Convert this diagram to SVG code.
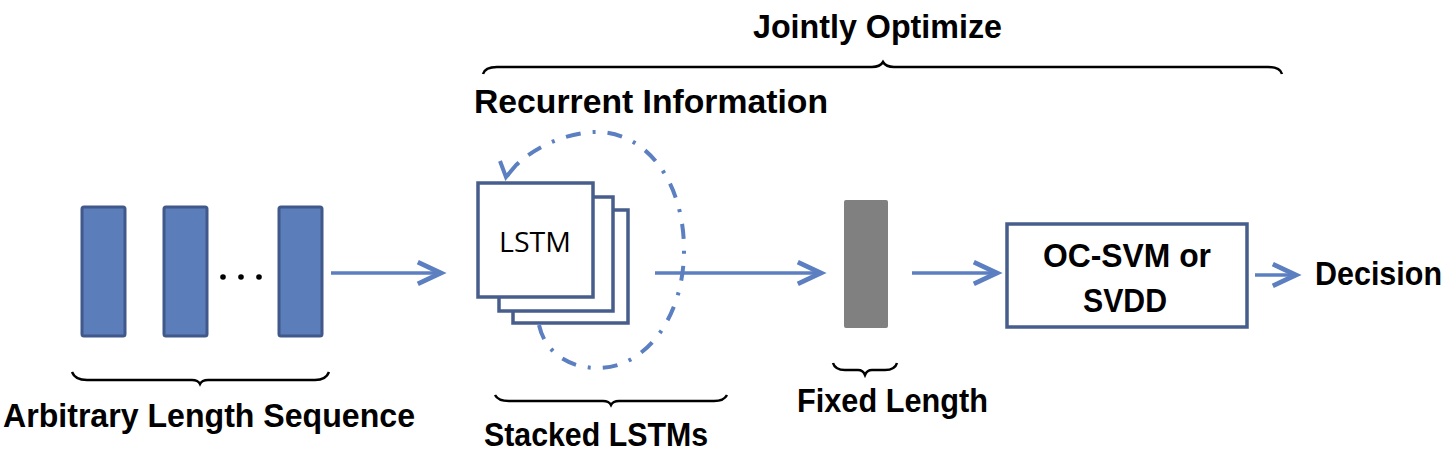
<svg xmlns="http://www.w3.org/2000/svg" width="1451" height="474" viewBox="0 0 1451 474">
<style>
.lbl{font-family:"Liberation Sans",Arial,"DejaVu Sans",sans-serif;font-weight:bold;font-size:33px;fill:#000}
.reg{font-family:"Open Sans","Liberation Sans","DejaVu Sans",sans-serif;font-size:27px;fill:#000}
.bar{fill:#5b7dba;stroke:#41598a;stroke-width:3}
.lstm{fill:#fff;stroke:#475d8c;stroke-width:3.5}
.conn{stroke:#5b7fc0;stroke-width:3.5;fill:none}
.brace{stroke:#000;stroke-width:2.5;fill:none}
.loop{stroke:#5b7fc0;stroke-width:4;fill:none;stroke-dasharray:15 12 3 12}
</style>
<defs>
<marker id="arr" markerUnits="userSpaceOnUse" markerWidth="30" markerHeight="30" viewBox="-20 -10 22 20" refX="0" refY="0" orient="auto" overflow="visible">
<path d="M-17,-8 L0,0 L-17,8" fill="none" stroke="#5b7fc0" stroke-width="3.5"/>
</marker>
</defs>

<g id="sequence">
<rect class="bar" x="82" y="207" width="43" height="129" rx="2"/>
<rect class="bar" x="164" y="207" width="43" height="129" rx="2"/>
<rect class="bar" x="279" y="207" width="43" height="129" rx="2"/>
<circle cx="223" cy="277" r="2.8" fill="#000"/>
<circle cx="241" cy="277" r="2.8" fill="#000"/>
<circle cx="259" cy="277" r="2.8" fill="#000"/>
</g>

<g id="lstm-stack">
<rect class="lstm" x="513" y="210" width="115" height="113"/>
<rect class="lstm" x="499" y="197" width="114" height="114"/>
<rect class="lstm" x="478" y="183" width="115" height="114"/>
<text class="reg" x="499" y="252" textLength="72" lengthAdjust="spacingAndGlyphs">LSTM</text>
</g>

<g id="fixed-vector">
<rect x="844" y="200" width="44" height="128" rx="2" fill="#808080"/>
</g>

<g id="classifier">
<rect x="1007" y="224" width="240" height="103" fill="#fff" stroke="#475d8c" stroke-width="3.5"/>
<text class="lbl" x="1043" y="267" textLength="168" lengthAdjust="spacingAndGlyphs">OC-SVM or</text>
<text class="lbl" x="1083" y="312" textLength="84" lengthAdjust="spacingAndGlyphs">SVDD</text>
</g>

<g id="decision">
<text class="lbl" x="1315" y="285" textLength="127" lengthAdjust="spacingAndGlyphs">Decision</text>
</g>

<g id="connectors">
<line class="conn" x1="331" y1="273" x2="441" y2="273" marker-end="url(#arr)"/>
<line class="conn" x1="655" y1="273" x2="821" y2="273" marker-end="url(#arr)"/>
<line class="conn" x1="912" y1="273" x2="997" y2="273" marker-end="url(#arr)"/>
<line class="conn" x1="1255" y1="275" x2="1296" y2="275" marker-end="url(#arr)"/>
<path class="loop" d="M539,325 C545,352 568,368 598,368 C645,368 684,318 684,250 C684,180 645,132 597,132 C565,132 525,150 507,176"/>
<polyline points="500,161 506,177 517,164" fill="none" stroke="#5b7fc0" stroke-width="4"/>
</g>

<g id="braces">
<path class="brace" d="M483,74 Q485,67 497,67 L872,67 Q880,67 883,62 Q886,67 894,67 L1268,67 Q1280,67 1282,74"/>
<path class="brace" d="M72,372 Q75,380 87,380 L192,380 Q198,380 200,384 Q202,380 208,380 L315,380 Q326,380 329,372"/>
<path class="brace" d="M495,395 Q498,401 509,401 L603,401 Q609,401 611,405 Q613,401 619,401 L714,401 Q724,401 727,395"/>
<path class="brace" d="M833,363 Q835,370 845,370 L858,370 Q863,370 865,375 Q867,370 872,370 L885,370 Q895,370 897,363"/>
</g>

<g id="labels">
<text class="lbl" x="753" y="38" textLength="249" lengthAdjust="spacingAndGlyphs">Jointly Optimize</text>
<text class="lbl" x="474" y="113" textLength="354" lengthAdjust="spacingAndGlyphs">Recurrent Information</text>
<text class="lbl" x="3" y="427" textLength="412" lengthAdjust="spacingAndGlyphs">Arbitrary Length Sequence</text>
<text class="lbl" x="484" y="446" textLength="224" lengthAdjust="spacingAndGlyphs">Stacked LSTMs</text>
<text class="lbl" x="797" y="412" textLength="191" lengthAdjust="spacingAndGlyphs">Fixed Length</text>
</g>
</svg>
